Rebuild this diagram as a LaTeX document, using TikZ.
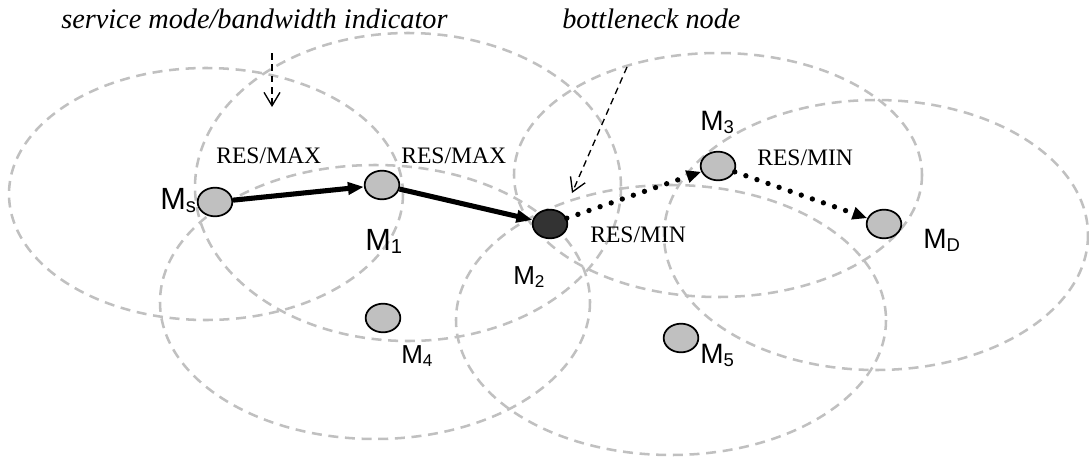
\documentclass[tikz,border=0pt]{standalone}
\usepackage{fontspec}
\setmainfont{Liberation Serif}
\setsansfont{Liberation Sans}
\usepackage{tikz}
\usetikzlibrary{arrows.meta,shapes.geometric}
\definecolor{rangegray}{RGB}{192,192,192}
\definecolor{hostgray}{RGB}{192,192,192}
\definecolor{bneck}{RGB}{51,51,51}

% host label with a small lowered index
\newcommand{\Mlab}[1]{M\raisebox{-0.12em}{\scalebox{0.66}{#1}}}

\begin{document}
\begin{tikzpicture}[x=0.75pt,y=-0.75pt,
  txrange/.style={draw=rangegray, line width=1.9pt, dash pattern=on 7.5pt off 5pt},
  host/.style={draw, ellipse, fill=hostgray, line width=1.3pt, minimum width=26pt, minimum height=21.5pt, inner sep=0pt},
  hop/.style={line width=3.8pt, -{Triangle[length=12pt,width=9pt]}},
  weakhop/.style={line width=4pt, line cap=round, dash pattern=on 0pt off 8.8pt, -{Triangle[length=11pt,width=9pt]}},
  pointer/.style={line width=1pt, dash pattern=on 5pt off 3.5pt, -{Straight Barb[length=10pt,width=12pt]}},
  annot/.style={font=\itshape\fontsize{21.2}{24}\selectfont, anchor=base west, inner sep=0pt},
  svcmode/.style={font=\fontsize{17.7}{20}\selectfont, anchor=base west, inner sep=0pt},
  hosttag/.style={font=\sffamily\fontsize{19.5}{22}\selectfont, anchor=base west, inner sep=0pt},
  midtag/.style={hosttag, font=\sffamily\fontsize{21}{24}\selectfont},
  bigtag/.style={hosttag, font=\sffamily\fontsize{23}{26}\selectfont}]
  \useasboundingbox (0,0) rectangle (1089,457);

  % transmission ranges
  \draw[txrange] (206,194) ellipse [x radius=197, y radius=126];
  \draw[txrange] (408,187) ellipse [x radius=213, y radius=154];
  \draw[txrange] (718,175) ellipse [x radius=204, y radius=122];
  \draw[txrange] (375,302) ellipse [x radius=215, y radius=137];
  \draw[txrange] (876,235) ellipse [x radius=212, y radius=135];
  \draw[txrange] (671,320) ellipse [x radius=215, y radius=135];

  % hosts
  \node[host] (ms) at (215,202) {};
  \node[host] (m1) at (382,185) {};
  \node[host, fill=bneck] (m2) at (550,224) {};
  \node[host] (m3) at (718,166) {};
  \node[host] (md) at (884,224) {};
  \node[host] (m4) at (383,318) {};
  \node[host] (m5) at (681,338) {};

  \node[bigtag] (lab-ms) at (160,209) {\Mlab{s}};
  \node[bigtag] (lab-m1) at (365,250) {\Mlab{1}};
  \node[hosttag] (lab-m2) at (513,284) {\Mlab{2}};
  \node[midtag] (lab-m3) at (700,130) {\Mlab{3}};
  \node[midtag] (lab-md) at (923,248) {\Mlab{D}};
  \node[hosttag] (lab-m4) at (401,363) {\Mlab{4}};
  \node[midtag] (lab-m5) at (700,363) {\Mlab{5}};

  % route
  \draw[hop] (ms) -- (m1);
  \draw[hop] (m1) -- (m2);
  \draw[weakhop] (m2) -- (m3);
  \draw[weakhop] (m3) -- (md);

  \node[svcmode] (sm1) at (216,163) {RES/MAX};
  \node[svcmode] (sm2) at (401,163) {RES/MAX};
  \node[svcmode] (sm3) at (590,242) {RES/MIN};
  \node[svcmode] (sm4) at (757,165) {RES/MIN};

  % annotations
  \node[annot] (ind) at (61,28) {service mode/bandwidth indicator};
  \node[annot] (bn) at (562,28) {bottleneck node};
  \coordinate (ind-from) at (272,53);
  \coordinate (ind-to) at (272,107);
  \coordinate (bn-from) at (627,67);
  \coordinate (bn-to) at (572,193);
  \draw[pointer] (ind-from) -- (ind-to);
  \draw[pointer] (bn-from) -- (bn-to);
\end{tikzpicture}
\end{document}
